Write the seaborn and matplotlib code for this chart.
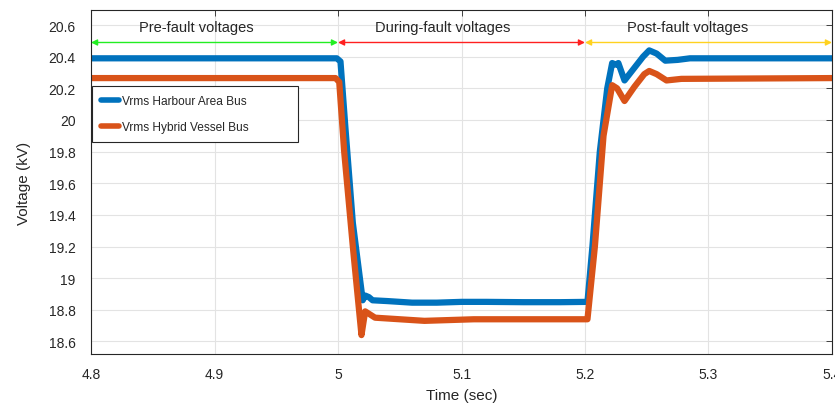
import matplotlib
matplotlib.use("Agg")
import matplotlib.pyplot as plt
import seaborn as sns
import pandas as pd

# ---- data ----
t_blue = [4.80, 4.999, 5.002, 5.006, 5.012, 5.020, 5.022, 5.025, 5.028, 5.04, 5.06, 5.08,
          5.10, 5.12, 5.15, 5.18, 5.202, 5.206, 5.212, 5.218, 5.222, 5.225, 5.227,
          5.232, 5.240, 5.247, 5.252, 5.258, 5.265, 5.275, 5.285, 5.40]
v_blue = [20.39, 20.39, 20.37, 19.95, 19.35, 18.86, 18.89, 18.88, 18.86, 18.855, 18.845, 18.845,
          18.85, 18.85, 18.848, 18.848, 18.85, 19.2, 19.8, 20.2, 20.36, 20.35, 20.36,
          20.25, 20.33, 20.40, 20.44, 20.42, 20.375, 20.38, 20.39, 20.39]

t_orange = [4.80, 4.998, 5.001, 5.005, 5.012, 5.019, 5.022, 5.026, 5.03, 5.05, 5.07, 5.09,
            5.11, 5.15, 5.202, 5.208, 5.215, 5.222, 5.226, 5.232, 5.240, 5.248, 5.252,
            5.258, 5.266, 5.278, 5.40]
v_orange = [20.265, 20.265, 20.24, 19.8, 19.2, 18.64, 18.79, 18.77, 18.75, 18.74, 18.73, 18.735,
            18.74, 18.74, 18.74, 19.2, 19.9, 20.22, 20.20, 20.12, 20.21, 20.29, 20.31,
            20.29, 20.25, 20.26, 20.265]

series_names = ["Vrms Harbour Area Bus", "Vrms Hybrid Vessel Bus"]
series_colors = ["#0072BD", "#D95319"]

regions = ["Pre-fault voltages", "During-fault voltages", "Post-fault voltages"]
region_bounds = [(4.8, 5.0), (5.0, 5.2), (5.2, 5.4)]
region_text_x = [4.885, 5.085, 5.283]
region_colors = ["#22EE22", "#FF2020", "#FFD21F"]

x_ticks = [4.8, 4.9, 5.0, 5.1, 5.2, 5.3, 5.4]
x_ticklabels = ["4.8", "4.9", "5", "5.1", "5.2", "5.3", "5.4"]
y_ticks = [18.6, 18.8, 19.0, 19.2, 19.4, 19.6, 19.8, 20.0, 20.2, 20.4, 20.6]
y_ticklabels = ["18.6", "18.8", "19", "19.2", "19.4", "19.6", "19.8", "20", "20.2", "20.4", "20.6"]

df = pd.concat([
    pd.DataFrame({"t": t_blue, "v": v_blue, "series": series_names[0]}),
    pd.DataFrame({"t": t_orange, "v": v_orange, "series": series_names[1]}),
], ignore_index=True)

sns.set_style("white")
plt.rcParams["font.family"] = ["Liberation Sans", "DejaVu Sans"]

fig = plt.figure(figsize=(8.35, 4.1), dpi=100)
ax = fig.add_axes([0.109, 0.134, 0.8874, 0.839])

sns.lineplot(data=df, x="t", y="v", hue="series", palette=dict(zip(series_names, series_colors)),
             linewidth=4.5, sort=False, estimator=None, ax=ax)

ax.set_xlim(4.8, 5.4)
ax.set_ylim(18.52, 20.695)
ax.set_xticks(x_ticks)
ax.set_xticklabels(x_ticklabels)
ax.set_yticks(y_ticks)
ax.set_yticklabels(y_ticklabels)
ax.grid(True, color="#e3e3e3", linewidth=0.8)
ax.set_axisbelow(True)
ax.tick_params(direction="in", length=4, width=0.6, top=True, right=True,
               labelsize=10, colors="#262626", pad=9)
ax.tick_params(axis="y", pad=11)
for s in ax.spines.values():
    s.set_color("#262626")
    s.set_linewidth(0.8)
ax.set_xlabel("Time (sec)", fontsize=11, color="#262626")
ax.set_ylabel("Voltage (kV)", fontsize=11, color="#262626")
ax.xaxis.set_label_coords(0.5, -0.1)
ax.yaxis.set_label_coords(-0.081, 0.5)

for name, (a, b), tx, c in zip(regions, region_bounds, region_text_x, region_colors):
    ax.annotate("", xy=(b, 20.49), xytext=(a, 20.49),
                arrowprops=dict(arrowstyle="<|-|>", color=c, lw=1.0, mutation_scale=9,
                                shrinkA=0, shrinkB=0))
    ax.text(tx, 20.59, name, ha="center", va="center", fontsize=10.5, color="#262626")

leg = ax.legend(loc="upper left", bbox_to_anchor=(0.002, 0.0, 0.277, 0.778), mode="expand",
                fontsize=8.6, frameon=True, fancybox=False, handlelength=1.5,
                handletextpad=0.2, borderaxespad=0, borderpad=0.75, labelspacing=1.15)
leg.get_frame().set_edgecolor("#262626")
leg.get_frame().set_linewidth(0.8)
leg.get_frame().set_alpha(1)
for h in leg.get_lines():
    h.set_linewidth(4)

fig.savefig("out.png", dpi=100)
